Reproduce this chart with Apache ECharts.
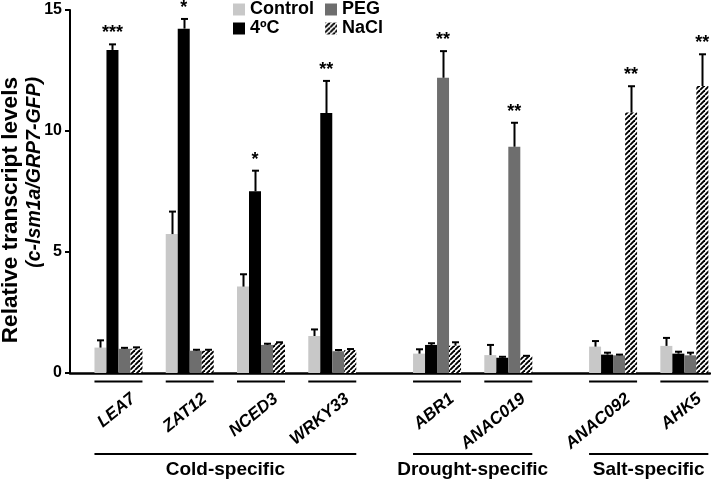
<!DOCTYPE html>
<html><head><meta charset="utf-8">
<script src="https://cdn.jsdelivr.net/npm/echarts@6/dist/echarts.min.js"></script>
<style>html,body{margin:0;padding:0;background:#fff}#c{width:711px;height:481px}</style>
</head><body><div id="c"></div>
<script>
// ---- data ----
const genes = ['LEA7','ZAT12','NCED3','WRKY33','ABR1','ANAC019','ANAC092','AHK5'];
const groupNames = ['Cold-specific','Drought-specific','Salt-specific'];
const groupOf = [0,0,0,0,1,1,2,2];
const treatments = ['Control','4ºC','PEG','NaCl'];
const controlVals = [1.05,5.74,3.57,1.53,0.80,0.74,1.09,1.12];
const controlErr  = [0.30,0.93,0.51,0.27,0.18,0.42,0.23,0.33];
const coldVals    = [13.35,14.23,7.51,10.74,1.16,0.63,0.76,0.80];
const coldErr     = [0.23,0.40,0.85,1.33,0.07,0.04,0.08,0.08];
const pegVals     = [1.00,0.92,1.16,0.90,12.20,9.35,0.73,0.73];
const pegErr      = [0.04,0.04,0.05,0.05,1.10,0.99,0.03,0.11];
const naclVals    = [1.00,0.92,1.24,0.95,1.13,0.69,10.76,11.86];
const naclErr     = [0.06,0.04,0.03,0.04,0.14,0.02,1.09,1.31];
const sigMarks    = ['***','*','*','**','**','**','**','**'];
const sigTreatment = [1,1,1,1,2,2,3,3];
const yTicks = [0,5,10,15];
const yTitle1 = 'Relative transcript levels';
const yTitle2 = '(c-lsm1a/GRP7-GFP)';

// ---- layout ----
const GAP = 0.47;
const BAR_W = 12;
const FONT = 'Arial, "Liberation Sans", Helvetica, sans-serif';
const pos = genes.map((g,i)=> i + groupOf[i]*GAP);
const vals = [controlVals, coldVals, pegVals, naclVals];
const errs = [controlErr, coldErr, pegErr, naclErr];

function hatch(){
  const s=5, c=document.createElement('canvas'); c.width=c.height=s;
  const g=c.getContext('2d'); g.fillStyle='#fff'; g.fillRect(0,0,s,s);
  g.strokeStyle='#000'; g.lineWidth=1.9;
  for(const k of [-s,0,s]){ g.beginPath(); g.moveTo(k,s); g.lineTo(k+s,0); g.stroke(); }
  return c;
}
const colors = ['#c8c8c8','#000000','#6e6e6e',{image:hatch(),repeat:'repeat'}];

const barSeries = treatments.map((t,ti)=>({
  name:t, type:'bar', barWidth:BAR_W, barGap:'0%',
  itemStyle:{color:colors[ti]},
  data: vals[ti].map((v,i)=>[pos[i], v]),
  z:2
}));

const errData = [];
treatments.forEach((t,ti)=>{ vals[ti].forEach((v,i)=>errData.push([pos[i], v, errs[ti][i], ti])); });

const errSeries = {
  type:'custom', name:'err', z:3, silent:true,
  data: errData,
  renderItem:(params, api)=>{
    const t = api.value(3);
    const b = api.coord([api.value(0), api.value(1)]);
    const tp = api.coord([api.value(0), api.value(1)+api.value(2)]);
    const x = Math.round(b[0] + (t-1.5)*BAR_W) + 0.5;
    const st = {stroke:'#000', lineWidth:2};
    return {type:'group', children:[
      {type:'line', shape:{x1:x,y1:b[1],x2:x,y2:tp[1]}, style:st},
      {type:'line', shape:{x1:x-3.5,y1:tp[1],x2:x+3.5,y2:tp[1]}, style:st}
    ]};
  }
};

const starSeries = {
  type:'custom', name:'sig', z:3, silent:true,
  data: genes.map((g,i)=>{ const t=sigTreatment[i]; return [pos[i], vals[t][i]+errs[t][i], t]; }),
  renderItem:(params, api)=>{
    const i = params.dataIndex;
    const p = api.coord([api.value(0), api.value(1)]);
    const x = p[0] + (api.value(2)-1.5)*BAR_W;
    return {type:'text', x:x, y:p[1]-2, style:{text:sigMarks[i], align:'center', verticalAlign:'bottom',
      font:'bold 18px '+FONT, fill:'#000'}};
  }
};

const geneSeries = {
  type:'custom', name:'genes', z:3, silent:true, clip:false,
  data: genes.map((g,i)=>[pos[i], 0]),
  renderItem:(params, api)=>{
    const i = params.dataIndex;
    const p = api.coord([api.value(0), 0]);
    return {type:'group', children:[
      {type:'line', shape:{x1:p[0]-24,y1:p[1]+8.5,x2:p[0]+24,y2:p[1]+8.5}, style:{stroke:'#000',lineWidth:2}},
      {type:'text', x:p[0]+15, y:p[1]+24, rotation:39*Math.PI/180,
        style:{text:genes[i], align:'right', verticalAlign:'middle', font:'italic bold 17px '+FONT, fill:'#000'}}
    ]};
  }
};

const groupData = groupNames.map((n,gi)=>{
  const idx = genes.map((g,i)=>i).filter(i=>groupOf[i]===gi);
  return [pos[idx[0]], pos[idx[idx.length-1]]];
});
const groupSeries = {
  type:'custom', name:'groups', z:3, silent:true, clip:false,
  data: groupData,
  renderItem:(params, api)=>{
    const i = params.dataIndex;
    const a = api.coord([api.value(0), 0]);
    const b = api.coord([api.value(1), 0]);
    const y = a[1] + 81;
    return {type:'group', children:[
      {type:'line', shape:{x1:a[0]-24,y1:y,x2:b[0]+24,y2:y}, style:{stroke:'#000',lineWidth:2}},
      {type:'text', x:(a[0]+b[0])/2, y:y+16, style:{text:groupNames[i], align:'center', verticalAlign:'middle',
        font:'bold 19px '+FONT, fill:'#000'}}
    ]};
  }
};

const legendCommon = {orient:'vertical', top:0, itemWidth:12, itemHeight:12, itemGap:0, padding:0, icon:'rect',
  textStyle:{fontSize:18, fontWeight:'bold', fontFamily:FONT, color:'#000', lineHeight:19}};

const option = {
  animation:false,
  backgroundColor:'#fff',
  textStyle:{fontFamily:FONT},
  legend:[
    Object.assign({data:['Control','4ºC'], left:233}, legendCommon),
    Object.assign({data:['PEG','NaCl'], left:325}, legendCommon)
  ],
  graphic:[
    {type:'text', x:11, y:77, rotation:Math.PI/2, silent:true,
      style:{text:yTitle1, align:'right', verticalAlign:'middle', font:'bold 22.6px '+FONT, fill:'#000'}},
    {type:'text', x:35, y:77, rotation:Math.PI/2, silent:true,
      style:{text:yTitle2, align:'right', verticalAlign:'middle', font:'italic bold 19.5px '+FONT, fill:'#000'}}
  ],
  grid:{left:70, right:1, top:10, bottom:108, containLabel:false, outerBoundsMode:'none'},
  xAxis:{type:'value', min:-0.68, max:8.30,
    axisLine:{show:true, onZero:false, lineStyle:{color:'#000', width:2.5}},
    axisTick:{show:false}, axisLabel:{show:false}, splitLine:{show:false}},
  yAxis:{type:'value', min:yTicks[0], max:yTicks[yTicks.length-1], interval:yTicks[1]-yTicks[0],
    axisLine:{show:true, onZero:false, lineStyle:{color:'#000', width:2}},
    axisTick:{show:true, length:5, lineStyle:{color:'#000', width:2}},
    axisLabel:{fontSize:16, fontWeight:'bold', color:'#000', fontFamily:FONT, margin:8},
    splitLine:{show:false}},
  series:[...barSeries, errSeries, starSeries, geneSeries, groupSeries]
};
echarts.init(document.getElementById('c')).setOption(option);
</script></body></html>
